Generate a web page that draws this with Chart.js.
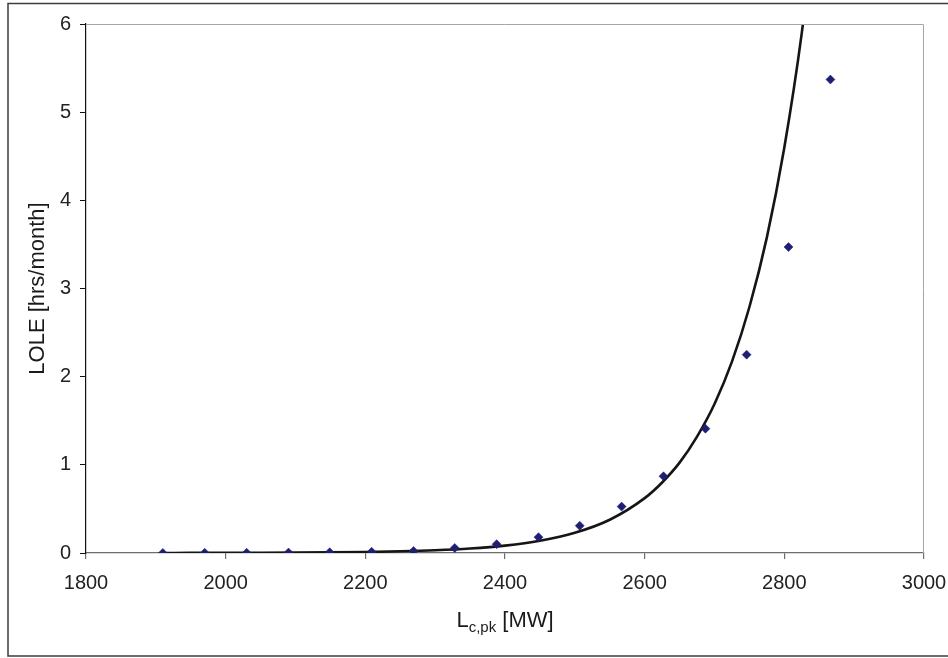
<!DOCTYPE html>
<html>
<head>
<meta charset="utf-8">
<title>LOLE vs peak load</title>
<script src="https://cdn.jsdelivr.net/npm/chart.js@4/dist/chart.umd.min.js"></script>
<style>
  html, body { margin: 0; padding: 0; background: #ffffff; }
  canvas { display: block; }
</style>
</head>
<body>
<canvas id="lole-chart" width="948" height="658"></canvas>
<script>
// Monthly peak load [MW] and the loss-of-load expectation computed for it
const peakLoads = [1910, 1970, 2030, 2090, 2149, 2209, 2269, 2328, 2388, 2448, 2507, 2567, 2627, 2687, 2746, 2806, 2866];
const loleValues = [0.001, 0.002, 0.003, 0.005, 0.009, 0.014, 0.023, 0.057, 0.10, 0.18, 0.31, 0.526, 0.87, 1.41, 2.25, 3.47, 5.37];

// Exponential trend line, sampled along its length
const trendLoads = [1910, 1950, 2000, 2050, 2100, 2150, 2200, 2250, 2300, 2350, 2400, 2450, 2500, 2550, 2600, 2625, 2650, 2675, 2700, 2725, 2750, 2775, 2800, 2825, 2850];
const trendLole = [0.0006, 0.0009, 0.0015, 0.0025, 0.0042, 0.0069, 0.0114, 0.019, 0.031, 0.051, 0.084, 0.139, 0.229, 0.377, 0.622, 0.80, 1.025, 1.32, 1.69, 2.17, 2.79, 3.58, 4.60, 5.90, 7.58];

// Axis ranges and tick steps
const xRange = [1800, 3000];
const xStep = 200;
const yRange = [0, 6];
const yStep = 1;

const FONT = "'Liberation Sans', Arial, sans-serif";

const toPoints = (xs, ys) => xs.map((x, i) => ({ x: x, y: ys[i] }));

// Outer frame plus the light grey top/right edges of the plot area
const framePlugin = {
  id: "frame",
  beforeDraw(chart) {
    const ctx = chart.ctx;
    ctx.save();
    ctx.strokeStyle = "#3c3c3c";
    ctx.lineWidth = 1.5;
    ctx.strokeRect(8, 3.5, 960, 652.5);
    ctx.restore();
  },
  afterDraw(chart) {
    const a = chart.chartArea;
    const ctx = chart.ctx;
    ctx.save();
    ctx.strokeStyle = "#a6a6a6";
    ctx.lineWidth = 1;
    ctx.beginPath();
    ctx.moveTo(a.left, a.top + 0.5);
    ctx.lineTo(a.right - 0.5, a.top + 0.5);
    ctx.lineTo(a.right - 0.5, a.bottom);
    ctx.stroke();
    ctx.restore();
  }
};

// X axis title with a subscript, which the built-in title can't do
const xTitlePlugin = {
  id: "xTitle",
  afterDraw(chart) {
    const ctx = chart.ctx;
    const a = chart.chartArea;
    const big = "22px " + FONT;
    const small = "15px " + FONT;
    const parts = [
      { t: "L", f: big, dy: 0 },
      { t: "c,pk", f: small, dy: 5 },
      { t: " [MW]", f: big, dy: 0 }
    ];
    ctx.save();
    ctx.fillStyle = "#1a1a1a";
    ctx.textBaseline = "alphabetic";
    let total = 0;
    parts.forEach(p => { ctx.font = p.f; p.w = ctx.measureText(p.t).width; total += p.w; });
    let x = (a.left + a.right) / 2 - total / 2;
    const baseY = 627;
    parts.forEach(p => {
      ctx.font = p.f;
      ctx.fillText(p.t, x, baseY + p.dy);
      x += p.w;
    });
    ctx.restore();
  }
};

new Chart(document.getElementById("lole-chart"), {
  type: "scatter",
  data: {
    datasets: [
      {
        label: "LOLE",
        data: toPoints(peakLoads, loleValues),
        pointStyle: "rectRot",
        pointRadius: 4.5,
        pointBackgroundColor: "#1e1e74",
        pointBorderColor: "#1e1e74",
        pointBorderWidth: 0.5,
        showLine: false,
        order: 0
      },
      {
        label: "Trend",
        type: "line",
        data: toPoints(trendLoads, trendLole),
        borderColor: "#151515",
        borderWidth: 2.6,
        pointRadius: 0,
        fill: false,
        cubicInterpolationMode: "monotone",
        order: 1
      }
    ]
  },
  options: {
    responsive: false,
    animation: false,
    devicePixelRatio: 1,
    layout: { padding: { left: 0, top: 24, right: 24, bottom: 0 } },
    plugins: {
      legend: { display: false },
      tooltip: { enabled: false }
    },
    scales: {
      x: {
        type: "linear",
        min: xRange[0],
        max: xRange[1],
        // fixed band height; the "3000" label may overhang into the right margin
        afterFit: s => { s.height = 105; s.paddingLeft = 0; s.paddingRight = 0; },
        border: { display: true, color: "#6e6e6e", width: 1.2 },
        grid: { drawOnChartArea: false, drawTicks: true, tickLength: 6, color: "#6e6e6e", lineWidth: 1.2 },
        ticks: {
          stepSize: xStep,
          padding: 12,
          color: "#222222",
          font: { family: FONT, size: 20 },
          maxRotation: 0,
          callback: v => String(v)
        }
      },
      y: {
        min: yRange[0],
        max: yRange[1],
        afterFit: s => { s.width = 86; },
        border: { display: true, color: "#111111", width: 1.2 },
        grid: { drawOnChartArea: false, drawTicks: true, tickLength: 6, color: "#111111", lineWidth: 1 },
        ticks: {
          stepSize: yStep,
          padding: 9,
          color: "#222222",
          font: { family: FONT, size: 20 },
          callback: v => String(v)
        },
        title: {
          display: true,
          text: "LOLE [hrs/month]",
          color: "#1a1a1a",
          font: { family: FONT, size: 22 },
          padding: { top: 25, bottom: 0 }
        }
      }
    }
  },
  plugins: [framePlugin, xTitlePlugin]
});
</script>
</body>
</html>
